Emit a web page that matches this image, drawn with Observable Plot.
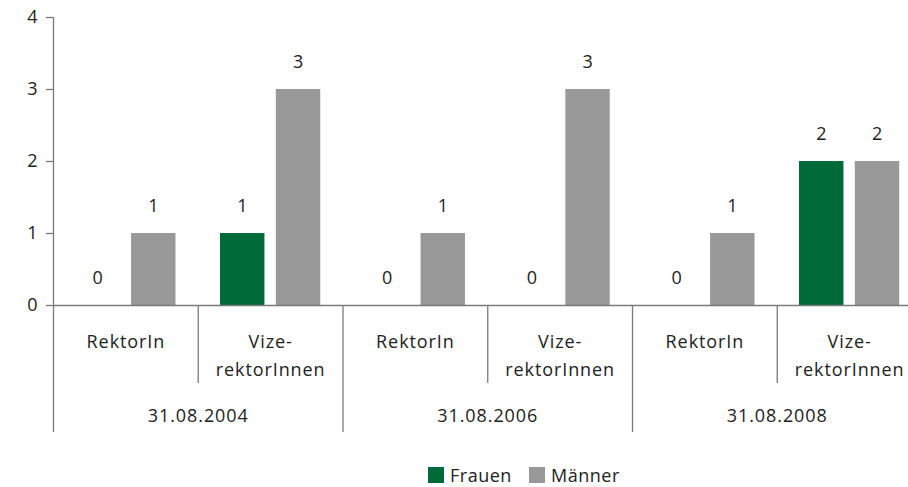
<!DOCTYPE html>
<html>
<head>
<meta charset="utf-8">
<script src="https://cdn.jsdelivr.net/npm/d3@7"></script>
<script src="https://cdn.jsdelivr.net/npm/@observablehq/plot@0.6"></script>
<style>
  html, body { margin: 0; padding: 0; background: #fff; }
  body { width: 908px; height: 487px; overflow: hidden; font-family: "Open Sans", sans-serif; color: #222; }
  #legend { height: 42px; position: relative; font-size: 18px; letter-spacing: 0.5px; }
  .item { position: absolute; top: 22px; display: flex; align-items: center; height: 16px; }
  .sw { width: 16px; height: 16px; margin-right: 6px; }
</style>
</head>
<body>
<div id="chart"></div>
<div id="legend"></div>
<script>
const dates = ["31.08.2004", "31.08.2006", "31.08.2008"];
const roles = ["RektorIn", "Vize-\nrektorInnen"];
const sexes = ["Frauen", "Männer"];
const frauen = [0, 1, 0, 0, 0, 2];
const maenner = [1, 3, 1, 3, 1, 2];
const yTicks = [0, 1, 2, 3, 4];
const colors = ["#006a38", "#999999"];

const cats = [];
dates.forEach((d, di) => roles.forEach((r, ri) => cats.push({key: d + "|" + ri, date: d, role: r, ri, di})));
const keys = cats.map(c => c.key);
const data = [];
cats.forEach((c, i) => {
  data.push({key: c.key, sex: sexes[0], value: frauen[i]});
  data.push({key: c.key, sex: sexes[1], value: maenner[i]});
});

const W = 908, H = 445, ML = 53, MR = -13.5, MT = 17, MB = 140;
const step = (W - ML - MR) / keys.length;
const axisColor = "#7a7a7a";
const textColor = "#222";
const ruleStyle = {x: null, fx: "key", dx: -step / 2, stroke: axisColor, strokeWidth: 1.3};

const chart = Plot.plot({
  width: W, height: H,
  marginLeft: ML, marginRight: MR, marginTop: MT, marginBottom: MB,
  style: {fontFamily: "'Open Sans', sans-serif", fontSize: "18px", color: textColor, background: "white"},
  fx: {domain: keys, padding: 0, round: false, axis: null},
  x: {domain: sexes, paddingInner: 0.204, paddingOuter: 0.399, round: false, axis: null},
  y: {domain: [0, 4], axis: null},
  color: {domain: sexes, range: colors},
  marks: [
    Plot.barY(data, {fx: "key", x: "sex", y: "value", fill: "sex"}),
    Plot.ruleY([0], {stroke: axisColor, strokeWidth: 1.3}),
    Plot.axisY({ticks: yTicks, tickFormat: d3.format("d"), tickSize: 7, tickPadding: 8, fontSize: 18, stroke: axisColor, strokeWidth: 1.3, fill: textColor, label: null}),
    Plot.ruleX(cats.filter(c => c.di === 0 && c.ri === 0), {...ruleStyle, y1: 4, y2: 0, insetBottom: -127}),
    Plot.ruleX(cats.filter(c => c.di > 0 && c.ri === 0), {...ruleStyle, y1: 0, y2: 0, insetBottom: -127}),
    Plot.ruleX(cats.filter(c => c.ri === 1), {...ruleStyle, y1: 0, y2: 0, insetBottom: -78}),
    Plot.text(data, {fx: "key", x: "sex", y: "value", text: d => String(d.value), dy: -27, fontSize: 18, fill: textColor}),
    Plot.text(cats, {fx: "key", text: "role", frameAnchor: "bottom", lineAnchor: "top", dy: 23, fontSize: 18, lineHeight: 1.55, fill: textColor}),
    Plot.text(cats.filter(c => c.ri === 0), {fx: "key", text: "date", frameAnchor: "bottom-right", textAnchor: "middle", lineAnchor: "top", dy: 104, fontSize: 18, fill: textColor})
  ]
});
document.getElementById("chart").appendChild(chart);
chart.querySelectorAll("text").forEach(t => t.style.letterSpacing = "0.9px");

const legend = document.getElementById("legend");
const lx = [428, 529];
sexes.forEach((s, i) => {
  const it = document.createElement("div");
  it.className = "item";
  it.style.left = lx[i] + "px";
  it.innerHTML = `<span class="sw" style="background:${colors[i]}"></span><span>${s}</span>`;
  legend.appendChild(it);
});
</script>
</body>
</html>
